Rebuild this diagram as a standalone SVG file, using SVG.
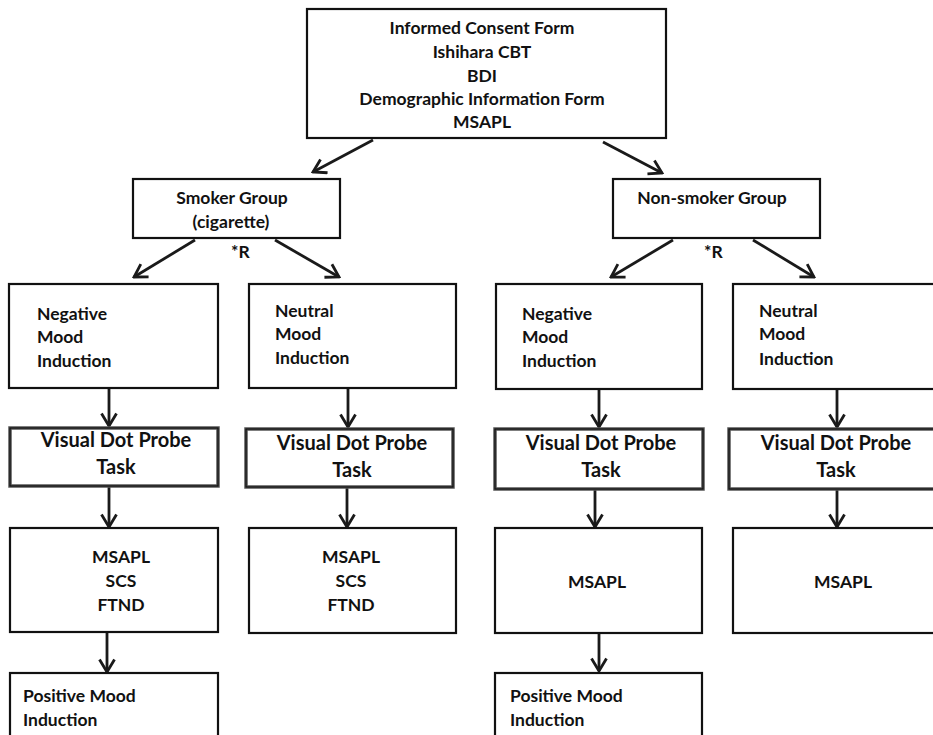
<svg xmlns="http://www.w3.org/2000/svg" width="933" height="735" viewBox="0 0 933 735">
<defs>
<style>
.box{fill:#fff;stroke:#111;stroke-width:2.2}
.vdp{fill:#fff;stroke:#555;stroke-width:3.5}
.vdpi{fill:none;stroke:#111;stroke-width:1.2}
text{font-family:Lato,"Open Sans","Liberation Sans",sans-serif;font-weight:bold;fill:#111}
.t{font-size:17.5px}
.c{text-anchor:middle}
.v{font-size:20px;text-anchor:middle}
.e{fill:none;stroke:#1a1a1a;stroke-width:2.8}
</style>
<marker id="ah" viewBox="0 0 16 18" refX="14" refY="9" markerWidth="16" markerHeight="18" markerUnits="userSpaceOnUse" orient="auto">
<polyline points="1.5,1.5 14,9 1.5,16.5" fill="none" stroke="#1a1a1a" stroke-width="2.8" stroke-linejoin="miter"/>
</marker>
</defs>
<rect width="933" height="735" fill="#fff"/>

<g id="connectors">
<line class="e" x1="373" y1="140" x2="313" y2="172" marker-end="url(#ah)"/>
<line class="e" x1="603" y1="142" x2="662" y2="173" marker-end="url(#ah)"/>
<line class="e" x1="195" y1="240" x2="134" y2="277" marker-end="url(#ah)"/>
<line class="e" x1="275" y1="240" x2="339" y2="277" marker-end="url(#ah)"/>
<line class="e" x1="673" y1="240" x2="611" y2="277" marker-end="url(#ah)"/>
<line class="e" x1="753" y1="240" x2="814" y2="277" marker-end="url(#ah)"/>
<line class="e" x1="109" y1="389" x2="109" y2="426" marker-end="url(#ah)"/>
<line class="e" x1="348" y1="389" x2="348" y2="427" marker-end="url(#ah)"/>
<line class="e" x1="599" y1="390" x2="599" y2="427" marker-end="url(#ah)"/>
<line class="e" x1="837" y1="390" x2="837" y2="427" marker-end="url(#ah)"/>
<line class="e" x1="109" y1="487" x2="109" y2="527" marker-end="url(#ah)"/>
<line class="e" x1="347" y1="488" x2="347" y2="527" marker-end="url(#ah)"/>
<line class="e" x1="595" y1="490" x2="595" y2="527" marker-end="url(#ah)"/>
<line class="e" x1="837" y1="490" x2="837" y2="527" marker-end="url(#ah)"/>
<line class="e" x1="107" y1="633" x2="107" y2="672" marker-end="url(#ah)"/>
<line class="e" x1="599" y1="634" x2="599" y2="671" marker-end="url(#ah)"/>
</g>

<g id="consent">
<rect class="box" x="307" y="9" width="359" height="129"/>
<text class="t c" x="482" y="34">Informed Consent Form</text>
<text class="t c" x="482" y="58">Ishihara CBT</text>
<text class="t c" x="482" y="82">BDI</text>
<text class="t c" x="482" y="105">Demographic Information Form</text>
<text class="t c" x="482" y="128">MSAPL</text>
</g>

<g id="smoker">
<rect class="box" x="133" y="179" width="207" height="59"/>
<text class="t c" x="232" y="204">Smoker Group</text>
<text class="t c" x="231" y="228">(cigarette)</text>
</g>
<g id="nonsmoker">
<rect class="box" x="613" y="179" width="207" height="59"/>
<text class="t c" x="712" y="204">Non-smoker Group</text>
</g>
<g id="r1"><text class="t" x="231" y="258">*R</text></g>
<g id="r2"><text class="t" x="704" y="258">*R</text></g>

<g id="neg1">
<rect class="box" x="9" y="284" width="209" height="104"/>
<text class="t" x="37" y="320">Negative</text>
<text class="t" x="37" y="343">Mood</text>
<text class="t" x="37" y="367">Induction</text>
</g>
<g id="neu1">
<rect class="box" x="249" y="284" width="207" height="104"/>
<text class="t" x="275" y="317">Neutral</text>
<text class="t" x="275" y="340">Mood</text>
<text class="t" x="275" y="364">Induction</text>
</g>
<g id="neg2">
<rect class="box" x="496" y="284" width="206" height="105"/>
<text class="t" x="522" y="320">Negative</text>
<text class="t" x="522" y="343">Mood</text>
<text class="t" x="522" y="367">Induction</text>
</g>
<g id="neu2">
<rect class="box" x="733" y="284" width="210" height="105"/>
<text class="t" x="759" y="317">Neutral</text>
<text class="t" x="759" y="340">Mood</text>
<text class="t" x="759" y="365">Induction</text>
</g>

<g id="vdp1">
<rect class="vdp" x="10" y="428" width="208" height="58"/>
<rect class="vdpi" x="10" y="428" width="208" height="58"/>
<text class="v" x="116" y="447">Visual Dot Probe</text>
<text class="v" x="116" y="474">Task</text>
</g>
<g id="vdp2">
<rect class="vdp" x="246" y="429" width="207" height="58"/>
<rect class="vdpi" x="246" y="429" width="207" height="58"/>
<text class="v" x="352" y="450">Visual Dot Probe</text>
<text class="v" x="352" y="477">Task</text>
</g>
<g id="vdp3">
<rect class="vdp" x="495" y="429" width="208" height="60"/>
<rect class="vdpi" x="495" y="429" width="208" height="60"/>
<text class="v" x="601" y="450">Visual Dot Probe</text>
<text class="v" x="601" y="477">Task</text>
</g>
<g id="vdp4">
<rect class="vdp" x="729" y="429" width="214" height="60"/>
<rect class="vdpi" x="729" y="429" width="214" height="60"/>
<text class="v" x="836" y="450">Visual Dot Probe</text>
<text class="v" x="836" y="477">Task</text>
</g>

<g id="msapl1">
<rect class="box" x="10" y="528" width="208" height="104"/>
<text class="t c" x="121" y="563">MSAPL</text>
<text class="t c" x="121" y="587">SCS</text>
<text class="t c" x="121" y="611">FTND</text>
</g>
<g id="msapl2">
<rect class="box" x="249" y="528" width="207" height="105"/>
<text class="t c" x="351" y="563">MSAPL</text>
<text class="t c" x="351" y="587">SCS</text>
<text class="t c" x="351" y="611">FTND</text>
</g>
<g id="msapl3">
<rect class="box" x="495" y="528" width="207" height="105"/>
<text class="t c" x="597" y="588">MSAPL</text>
</g>
<g id="msapl4">
<rect class="box" x="733" y="528" width="210" height="105"/>
<text class="t c" x="843" y="588">MSAPL</text>
</g>

<g id="pos1">
<rect class="box" x="10" y="673" width="208" height="80"/>
<text class="t" x="23" y="702">Positive Mood</text>
<text class="t" x="23" y="726">Induction</text>
</g>
<g id="pos2">
<rect class="box" x="495" y="673" width="207" height="80"/>
<text class="t" x="510" y="702">Positive Mood</text>
<text class="t" x="510" y="726">Induction</text>
</g>
</svg>
